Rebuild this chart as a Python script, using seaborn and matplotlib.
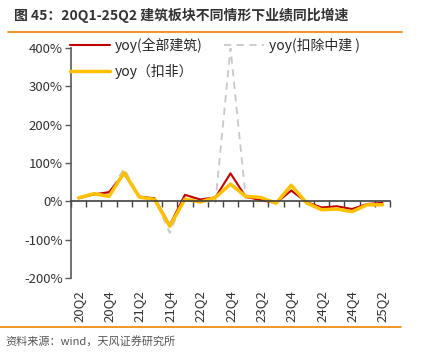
import matplotlib
matplotlib.use("Agg")
import matplotlib.pyplot as plt
import seaborn as sns
import pandas as pd
import numpy as np

quarters = ["20Q2", "20Q3", "20Q4", "21Q1", "21Q2", "21Q3", "21Q4", "22Q1", "22Q2", "22Q3", "22Q4",
            "23Q1", "23Q2", "23Q3", "23Q4", "24Q1", "24Q2", "24Q3", "24Q4", "25Q1", "25Q2"]
yoy_all = [8, 18, 24, 72, 12, 8, -62, 17, 5, 10, 73, 12, 3, -4, 28, -2, -16, -13, -20, -7, -4]
yoy_ex_cscec = [8, 18, 22, 85, 13, 8, -82, 14, 4, -4, 400, 9, 5, -6, 30, -3, -20, -12, -22, -8, -4]
yoy_nonrec = [9, 20, 13, 75, 11, 5, -65, 6, -2, 10, 45, 13, 10, -5, 42, -4, -22, -20, -27, -9, -9]
label_all = "yoy(全部建筑)"
label_ex = "yoy(扣除中建 )"
label_nonrec = "yoy（扣非）"
tick_labels = quarters[::2]

sns.set_theme(style="white")
plt.rcParams['font.family'] = ['Noto Sans CJK SC', 'DejaVu Sans']

fig = plt.figure(figsize=(4.24, 3.55), dpi=100)
ax = fig.add_axes([71/424, 77/355, (390-71)/424, (278-48)/355])

df = pd.DataFrame({"i": np.arange(len(quarters)), "all": yoy_all, "ex": yoy_ex_cscec, "nr": yoy_nonrec})

sns.lineplot(data=df, x="i", y="all", ax=ax, color="#C00000", linewidth=1.5, label=label_all)
sns.lineplot(data=df, x="i", y="nr", ax=ax, color="#FFC000", linewidth=2.5, label=label_nonrec)
sns.lineplot(data=df, x="i", y="ex", ax=ax, color="#C8C8C8", linewidth=1.3, label=label_ex,
             linestyle=(0, (4, 3)))
ax.lines[2].set_zorder(1.5)

ax.set_xlim(-0.5, len(quarters) - 0.5)
ax.set_ylim(-200, 400)
ax.set_yticks([-200, -100, 0, 100, 200, 300, 400])
ax.set_yticklabels([f"{v}%" for v in [-200, -100, 0, 100, 200, 300, 400]], fontsize=9.5, color="#333333")
ax.set_xlabel("")
ax.set_ylabel("")

for s in ["top", "right"]:
    ax.spines[s].set_visible(False)
ax.spines["left"].set_color("#595959")
ax.spines["left"].set_linewidth(1.2)
ax.spines["bottom"].set_position(("data", 0))
ax.spines["bottom"].set_color("#404040")
ax.spines["bottom"].set_linewidth(1.2)
ax.tick_params(axis="y", direction="out", length=4, width=1, color="#595959", left=True, pad=2)
ax.set_xticks(np.arange(-0.5, len(quarters) + 0.5, 1.0))
ax.set_xticklabels([])
ax.tick_params(axis="x", direction="out", length=4, width=1, color="#404040", bottom=True)

ax2 = ax.twiny()
ax2.set_xlim(ax.get_xlim())
ax2.xaxis.set_ticks_position("bottom")
ax2.set_xticks(np.arange(0, len(quarters), 2))
ax2.set_xticklabels(tick_labels, rotation=90, fontsize=9.5, color="#333333")
ax2.tick_params(axis="x", length=0, pad=9)
for s in ax2.spines.values():
    s.set_visible(False)

h, l = ax.get_legend_handles_labels()
ax.legend(h, l, ncol=2, frameon=False, loc="upper left",
          bbox_to_anchor=(70/424, 1 - 38/355), bbox_transform=fig.transFigure,
          fontsize=10, handlelength=2.9, handletextpad=0.35, columnspacing=1.5,
          labelspacing=0.75, borderpad=0, borderaxespad=0)

fig.text(14/424, 1 - 15/355, "图 45：20Q1-25Q2 建筑板块不同情形下业绩同比增速", fontsize=10,
         fontweight="bold", color="#333333", va="center", ha="left")
fig.add_artist(plt.Line2D([8/424, 402/424], [1 - 32/355, 1 - 32/355], color="#F08300", linewidth=1.2))
fig.add_artist(plt.Line2D([0/424, 401/424], [1 - 327/355, 1 - 327/355], color="#F08300", linewidth=1.2))
fig.text(5/424, 1 - 341/355, "资料来源：wind，天风证券研究所", fontsize=8, color="#555555", va="center", ha="left")

fig.savefig("out.png", dpi=100)
